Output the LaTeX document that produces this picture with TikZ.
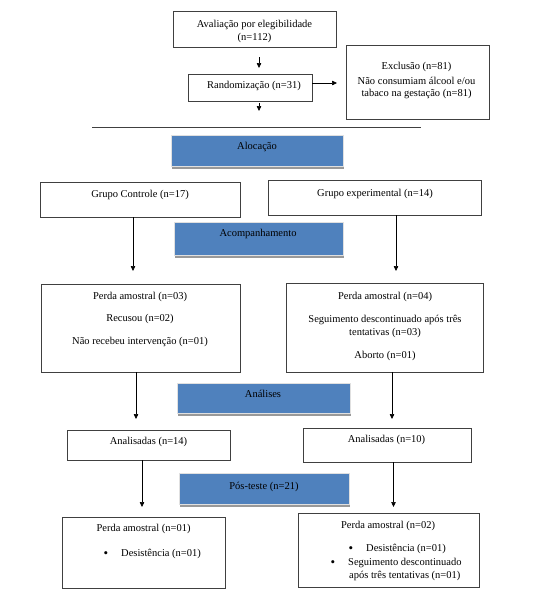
\documentclass[tikz,border=0pt]{standalone}
\usepackage{fontspec}
\setmainfont{Liberation Serif}
\usetikzlibrary{arrows.meta,shadows}
\definecolor{hdrblue}{HTML}{4F81BD}
\begin{document}
\begin{tikzpicture}[x=1pt,y=-1pt,
  box/.style={draw=black!75,line width=0.8pt,fill=white,rectangle,inner sep=0pt},
  hdr/.style={draw=black!12,line width=1pt,fill=hdrblue,rectangle,inner sep=0pt,
     drop shadow={shadow xshift=0.5pt,shadow yshift=-2.5pt,fill=black!40,opacity=1}},
  txt/.style={anchor=base,inner sep=0pt,font=\fontsize{10.5pt}{12pt}\selectfont},
  ltxt/.style={txt,anchor=base west},
  bul/.style={txt,font=\fontsize{13pt}{12pt}\selectfont},
  arr/.style={line width=0.6pt,-{Triangle[length=5pt,width=4.5pt]}},
  ln/.style={line width=0.6pt}]
\useasboundingbox (0,0) rectangle (539,600);
% boxes
\node[box,minimum width=163pt,minimum height=36pt] (top) at (254.5,29) {};
\node[box,minimum width=124pt,minimum height=27pt] (rand) at (250,87.5) {};
\node[box,minimum width=143pt,minimum height=74pt] (excl) at (417.5,82) {};
\node[hdr,minimum width=172pt,minimum height=31pt] (aloc) at (257,150.5) {};
\node[box,minimum width=200pt,minimum height=35pt] (gc) at (140,199.5) {};
\node[box,minimum width=213pt,minimum height=35pt] (ge) at (374.5,197.5) {};
\node[hdr,minimum width=169pt,minimum height=33pt] (acomp) at (258.5,238.5) {};
\node[box,minimum width=199pt,minimum height=88pt] (pl) at (140.5,328) {};
\node[box,minimum width=197pt,minimum height=89pt] (pr) at (384.5,327.5) {};
\node[hdr,minimum width=173pt,minimum height=30pt] (anal) at (263.5,398) {};
\node[box,minimum width=163pt,minimum height=30pt] (al) at (148.5,445) {};
\node[box,minimum width=168pt,minimum height=34pt] (ar) at (387,445) {};
\node[hdr,minimum width=170pt,minimum height=31pt] (pos) at (264,488.5) {};
\node[box,minimum width=163pt,minimum height=71pt] (bl) at (143.5,552.5) {};
\node[box,minimum width=181pt,minimum height=74pt] (br) at (388.5,550) {};
% separator line
\coordinate (hl1) at (92,127);
\coordinate (hl2) at (421,127);
\draw[line width=0.8pt,black!75] (hl1) -- (hl2);
% texts
\node[txt] (t1) at (254.5,27) {Avaliação por elegibilidade};
\node[txt] (t2) at (254.5,40) {(n=112)};
\node[txt] (t3) at (254,88) {Randomização (n=31)};
\node[txt] (t4) at (416.5,69) {Exclusão (n=81)};
\node[txt] (t5) at (416.5,84) {Não consumiam álcool e/ou};
\node[txt] (t6) at (416.5,96) {tabaco na gestação (n=81)};
\node[txt] (t7) at (257,149) {Alocação};
\node[txt] (t8) at (140,197) {Grupo Controle (n=17)};
\node[txt] (t9) at (375,196) {Grupo experimental (n=14)};
\node[txt] (t10) at (258,236) {Acompanhamento};
\node[txt] (t11) at (140,299) {Perda amostral (n=03)};
\node[txt] (t12) at (140,321) {Recusou (n=02)};
\node[txt] (t13) at (140,344) {Não recebeu intervenção (n=01)};
\node[txt] (t14) at (385,299) {Perda amostral (n=04)};
\node[txt] (t15) at (385,322) {Seguimento descontinuado após três};
\node[txt] (t16) at (385,335) {tentativas (n=03)};
\node[txt] (t17) at (385,358) {Aborto (n=01)};
\node[txt] (t18) at (263,397.5) {Análises};
\node[txt] (t19) at (148.5,444) {Analisadas (n=14)};
\node[txt] (t20) at (386.5,442) {Analisadas (n=10)};
\node[txt] (t21) at (264,489) {Pós-teste (n=21)};
\node[txt] (t22) at (143.5,531) {Perda amostral (n=01)};
\node[bul] (b1) at (106,557) {•};
\node[ltxt] (t23) at (121,556) {Desistência (n=01)};
\node[txt] (t24) at (388,528) {Perda amostral (n=02)};
\node[bul] (b2) at (351,552) {•};
\node[ltxt] (t25) at (366,551) {Desistência (n=01)};
\node[bul] (b3) at (333,566) {•};
\node[ltxt] (t26) at (348,565) {Seguimento descontinuado};
\node[ltxt] (t27) at (349,578) {após três tentativas (n=01)};
% connectors
\coordinate (a1s) at (259,57); \coordinate (a1e) at (259,68);
\draw[arr] (a1s) -- (a1e);
\coordinate (a2e) at (337,83);
\draw[arr] (rand.east |- a2e) -- (a2e);
\coordinate (a3s) at (259,103); \coordinate (a3e) at (259,111);
\draw[arr] (a3s) -- (a3e);
\coordinate (a4e) at (133,271);
\draw[arr] (gc.south -| a4e) -- (a4e);
\coordinate (a5e) at (396,271);
\draw[arr] (ge.south -| a5e) -- (a5e);
\coordinate (a6e) at (136,419);
\draw[arr] (pl.south -| a6e) -- (a6e);
\coordinate (a7e) at (392,419);
\draw[arr] (pr.south -| a7e) -- (a7e);
\coordinate (a8e) at (142,507);
\draw[arr] (al.south -| a8e) -- (a8e);
\coordinate (a9e) at (393.5,507);
\draw[arr] (ar.south -| a9e) -- (a9e);
\end{tikzpicture}
\end{document}
